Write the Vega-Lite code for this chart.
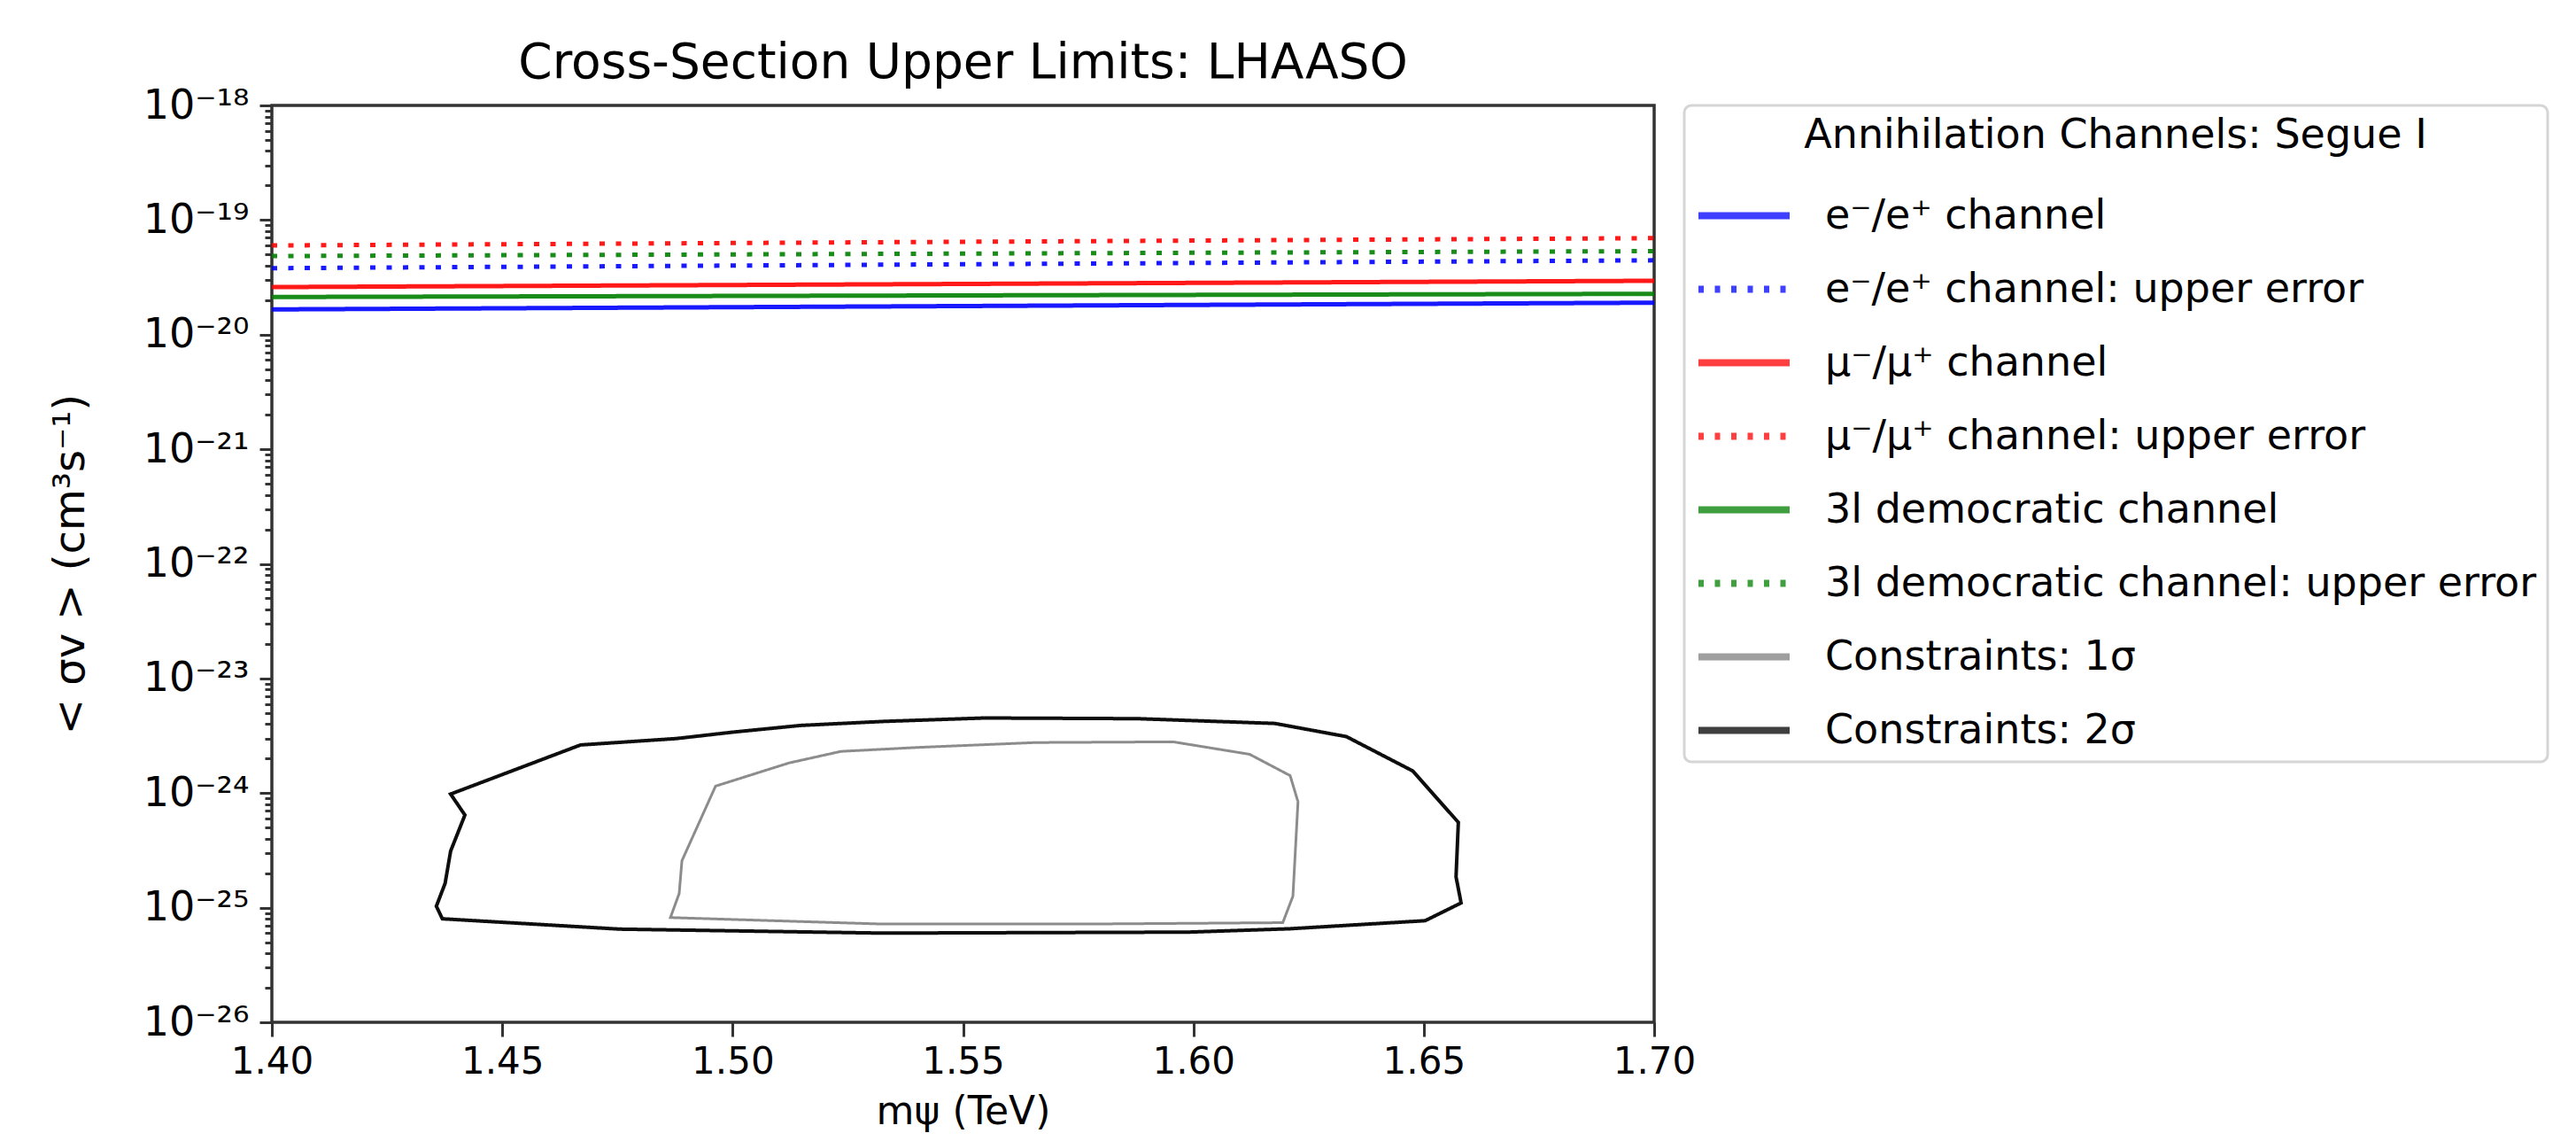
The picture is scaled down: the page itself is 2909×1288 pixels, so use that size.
{
  "$schema": "https://vega.github.io/schema/vega-lite/v6.json",
  "width": 1561,
  "height": 1035,
  "padding": {"left": 56, "top": 44, "right": 5, "bottom": 5},
  "background": "white",
  "title": {"text": "Cross-Section Upper Limits: LHAASO", "fontSize": 55, "font": "DejaVu Sans", "fontWeight": "normal", "color": "#000000", "anchor": "middle", "frame": "group", "offset": -4},
  "data": {"values": [
    {"series": "e⁻/e⁺ channel", "m": 1.40, "sv": 1.66e-20, "i": 0},
    {"series": "e⁻/e⁺ channel", "m": 1.70, "sv": 1.9e-20, "i": 1},
    {"series": "e⁻/e⁺ channel: upper error", "m": 1.40, "sv": 3.8e-20, "i": 0},
    {"series": "e⁻/e⁺ channel: upper error", "m": 1.70, "sv": 4.45e-20, "i": 1},
    {"series": "μ⁻/μ⁺ channel", "m": 1.40, "sv": 2.6e-20, "i": 0},
    {"series": "μ⁻/μ⁺ channel", "m": 1.70, "sv": 2.95e-20, "i": 1},
    {"series": "μ⁻/μ⁺ channel: upper error", "m": 1.40, "sv": 6.0e-20, "i": 0},
    {"series": "μ⁻/μ⁺ channel: upper error", "m": 1.70, "sv": 6.95e-20, "i": 1},
    {"series": "3l democratic channel", "m": 1.40, "sv": 2.13e-20, "i": 0},
    {"series": "3l democratic channel", "m": 1.70, "sv": 2.27e-20, "i": 1},
    {"series": "3l democratic channel: upper error", "m": 1.40, "sv": 4.85e-20, "i": 0},
    {"series": "3l democratic channel: upper error", "m": 1.70, "sv": 5.35e-20, "i": 1},

    {"series": "Constraints: 1σ", "m": 1.5657, "sv": 2.76e-24, "i": 0},
    {"series": "Constraints: 1σ", "m": 1.5956, "sv": 2.80e-24, "i": 1},
    {"series": "Constraints: 1σ", "m": 1.6122, "sv": 2.18e-24, "i": 2},
    {"series": "Constraints: 1σ", "m": 1.6210, "sv": 1.42e-24, "i": 3},
    {"series": "Constraints: 1σ", "m": 1.6227, "sv": 8.4e-25, "i": 4},
    {"series": "Constraints: 1σ", "m": 1.6216, "sv": 1.26e-25, "i": 5},
    {"series": "Constraints: 1σ", "m": 1.6194, "sv": 7.4e-26, "i": 6},
    {"series": "Constraints: 1σ", "m": 1.5768, "sv": 7.2e-26, "i": 7},
    {"series": "Constraints: 1σ", "m": 1.5325, "sv": 7.2e-26, "i": 8},
    {"series": "Constraints: 1σ", "m": 1.4865, "sv": 8.2e-26, "i": 9},
    {"series": "Constraints: 1σ", "m": 1.4884, "sv": 1.33e-25, "i": 10},
    {"series": "Constraints: 1σ", "m": 1.4890, "sv": 2.57e-25, "i": 11},
    {"series": "Constraints: 1σ", "m": 1.4963, "sv": 1.15e-24, "i": 12},
    {"series": "Constraints: 1σ", "m": 1.5122, "sv": 1.83e-24, "i": 13},
    {"series": "Constraints: 1σ", "m": 1.5235, "sv": 2.31e-24, "i": 14},
    {"series": "Constraints: 1σ", "m": 1.5400, "sv": 2.50e-24, "i": 15},
    {"series": "Constraints: 1σ", "m": 1.5657, "sv": 2.76e-24, "i": 16},

    {"series": "Constraints: 2σ", "m": 1.5546, "sv": 4.52e-24, "i": 0},
    {"series": "Constraints: 2σ", "m": 1.5878, "sv": 4.46e-24, "i": 1},
    {"series": "Constraints: 2σ", "m": 1.6177, "sv": 4.05e-24, "i": 2},
    {"series": "Constraints: 2σ", "m": 1.6332, "sv": 3.11e-24, "i": 3},
    {"series": "Constraints: 2σ", "m": 1.6476, "sv": 1.56e-24, "i": 4},
    {"series": "Constraints: 2σ", "m": 1.6575, "sv": 5.55e-25, "i": 5},
    {"series": "Constraints: 2σ", "m": 1.6570, "sv": 1.86e-25, "i": 6},
    {"series": "Constraints: 2σ", "m": 1.6581, "sv": 1.10e-25, "i": 7},
    {"series": "Constraints: 2σ", "m": 1.6503, "sv": 7.7e-26, "i": 8},
    {"series": "Constraints: 2σ", "m": 1.6210, "sv": 6.55e-26, "i": 9},
    {"series": "Constraints: 2σ", "m": 1.5989, "sv": 6.12e-26, "i": 10},
    {"series": "Constraints: 2σ", "m": 1.5325, "sv": 6.0e-26, "i": 11},
    {"series": "Constraints: 2σ", "m": 1.4755, "sv": 6.5e-26, "i": 12},
    {"series": "Constraints: 2σ", "m": 1.4370, "sv": 8.0e-26, "i": 13},
    {"series": "Constraints: 2σ", "m": 1.4357, "sv": 1.03e-25, "i": 14},
    {"series": "Constraints: 2σ", "m": 1.4376, "sv": 1.63e-25, "i": 15},
    {"series": "Constraints: 2σ", "m": 1.4388, "sv": 3.12e-25, "i": 16},
    {"series": "Constraints: 2σ", "m": 1.4419, "sv": 6.43e-25, "i": 17},
    {"series": "Constraints: 2σ", "m": 1.4388, "sv": 9.8e-25, "i": 18},
    {"series": "Constraints: 2σ", "m": 1.4670, "sv": 2.63e-24, "i": 19},
    {"series": "Constraints: 2σ", "m": 1.4878, "sv": 2.99e-24, "i": 20},
    {"series": "Constraints: 2σ", "m": 1.5000, "sv": 3.40e-24, "i": 21},
    {"series": "Constraints: 2σ", "m": 1.5147, "sv": 3.89e-24, "i": 22},
    {"series": "Constraints: 2σ", "m": 1.5328, "sv": 4.22e-24, "i": 23},
    {"series": "Constraints: 2σ", "m": 1.5546, "sv": 4.52e-24, "i": 24}
  ]},
  "encoding": {
    "x": {"field": "m", "type": "quantitative",
      "scale": {"domain": [1.4, 1.7], "nice": false, "zero": false},
      "axis": {"title": "mψ (TeV)", "values": [1.4, 1.45, 1.5, 1.55, 1.6, 1.65, 1.7], "format": ".2f",
        "labelFlush": false, "labelOverlap": false, "grid": false, "domain": false,
        "tickSize": 16, "tickWidth": 3, "tickColor": "#333333",
        "labelFontSize": 42, "labelFont": "DejaVu Sans", "labelColor": "#000000", "labelPadding": 8,
        "titleFontSize": 44, "titleFont": "DejaVu Sans", "titleFontWeight": "normal", "titleColor": "#000000", "titlePadding": 14}},
    "y": {"field": "sv", "type": "quantitative",
      "scale": {"type": "log", "domain": [1e-26, 1e-18], "nice": false},
      "axis": {"title": "< σv >  (cm³s⁻¹)",
        "values": [1e-26,2e-26,3e-26,4e-26,5e-26,6e-26,7e-26,8e-26,9e-26,
                   1e-25,2e-25,3e-25,4e-25,5e-25,6e-25,7e-25,8e-25,9e-25,
                   1e-24,2e-24,3e-24,4e-24,5e-24,6e-24,7e-24,8e-24,9e-24,
                   1e-23,2e-23,3e-23,4e-23,5e-23,6e-23,7e-23,8e-23,9e-23,
                   1e-22,2e-22,3e-22,4e-22,5e-22,6e-22,7e-22,8e-22,9e-22,
                   1e-21,2e-21,3e-21,4e-21,5e-21,6e-21,7e-21,8e-21,9e-21,
                   1e-20,2e-20,3e-20,4e-20,5e-20,6e-20,7e-20,8e-20,9e-20,
                   1e-19,2e-19,3e-19,4e-19,5e-19,6e-19,7e-19,8e-19,9e-19,
                   1e-18],
        "labelExpr": "abs(log(datum.value)/LN10 - round(log(datum.value)/LN10)) > 0.01 ? '' : (round(-log(datum.value)/LN10) == 18 ? '10⁻¹⁸' : round(-log(datum.value)/LN10) == 19 ? '10⁻¹⁹' : round(-log(datum.value)/LN10) == 20 ? '10⁻²⁰' : round(-log(datum.value)/LN10) == 21 ? '10⁻²¹' : round(-log(datum.value)/LN10) == 22 ? '10⁻²²' : round(-log(datum.value)/LN10) == 23 ? '10⁻²³' : round(-log(datum.value)/LN10) == 24 ? '10⁻²⁴' : round(-log(datum.value)/LN10) == 25 ? '10⁻²⁵' : '10⁻²⁶')",
        "labelFlush": false, "labelOverlap": false, "grid": false, "domain": false,
        "tickSize": {"condition": {"test": "abs(log(datum.value)/LN10 - round(log(datum.value)/LN10)) < 0.01", "value": 14}, "value": 8},
        "tickWidth": 3, "tickColor": "#333333",
        "labelFontSize": 46, "labelFont": "DejaVu Sans", "labelColor": "#000000", "labelPadding": 12,
        "titleFontSize": 48, "titleFont": "DejaVu Sans", "titleFontWeight": "normal", "titleColor": "#000000", "titlePadding": 57}},
    "color": {"field": "series", "type": "nominal",
      "scale": {"domain": ["e⁻/e⁺ channel", "e⁻/e⁺ channel: upper error", "μ⁻/μ⁺ channel", "μ⁻/μ⁺ channel: upper error", "3l democratic channel", "3l democratic channel: upper error", "Constraints: 1σ", "Constraints: 2σ"],
        "range": ["#0000ff", "#0000ff", "#ff0000", "#ff0000", "#008000", "#008000", "#808080", "#000000"]},
      "legend": {"title": "Annihilation Channels: Segue I"}},
    "strokeDash": {"field": "series", "type": "nominal",
      "scale": {"domain": ["e⁻/e⁺ channel", "e⁻/e⁺ channel: upper error", "μ⁻/μ⁺ channel", "μ⁻/μ⁺ channel: upper error", "3l democratic channel", "3l democratic channel: upper error", "Constraints: 1σ", "Constraints: 2σ"],
        "range": [[1, 0], [6, 12.5], [1, 0], [6, 12.5], [1, 0], [6, 12.5], [1, 0], [1, 0]]},
      "legend": {"title": "Annihilation Channels: Segue I"}},
    "order": {"field": "i", "type": "quantitative"}
  },
  "layer": [
    {"transform": [{"filter": "indexof(datum.series, 'Constraints') < 0"}],
     "mark": {"type": "line", "strokeWidth": 5, "opacity": 0.9, "clip": true}},
    {"transform": [{"filter": "datum.series == 'Constraints: 1σ'"}],
     "mark": {"type": "line", "strokeWidth": 3, "opacity": 0.9, "clip": true}},
    {"transform": [{"filter": "datum.series == 'Constraints: 2σ'"}],
     "mark": {"type": "line", "strokeWidth": 4, "opacity": 0.95, "clip": true}}
  ],
  "config": {
    "font": "DejaVu Sans",
    "view": {"stroke": "#333333", "strokeWidth": 3.5},
    "legend": {
      "orient": "right", "offset": 34, "padding": 12,
      "strokeColor": "#d5d5d5", "strokeWidth": 3, "cornerRadius": 8, "fillColor": "#ffffff",
      "titleFontSize": 46, "titleFont": "DejaVu Sans", "titleFontWeight": "normal", "titleColor": "#000000",
      "titleAnchor": "middle", "titlePadding": 11, "titleLimit": 2000,
      "labelFontSize": 46, "labelFont": "DejaVu Sans", "labelColor": "#000000", "labelOffset": 36, "labelLimit": 2000,
      "symbolType": "stroke", "symbolSize": 10609, "symbolStrokeWidth": 8, "symbolOpacity": 0.75,
      "rowPadding": 4
    }
  }
}
